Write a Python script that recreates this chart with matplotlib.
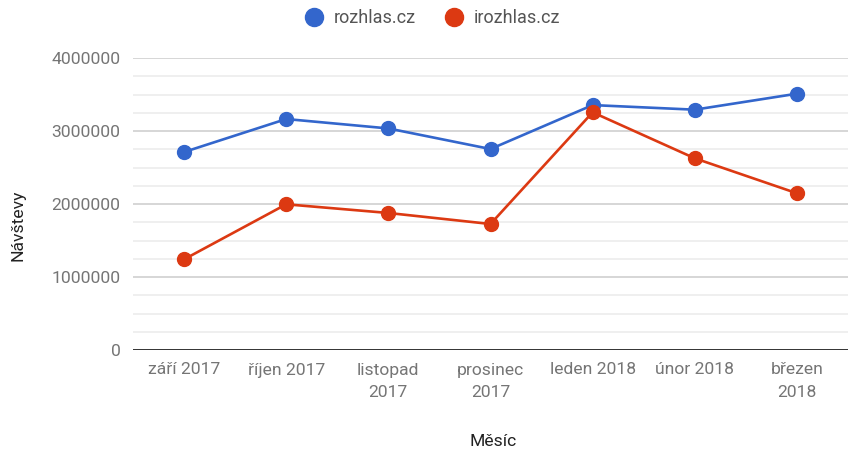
import matplotlib.pyplot as plt
from matplotlib.lines import Line2D
import numpy as np

plt.rcParams['font.family'] = ['Roboto', 'DejaVu Sans']

mesice = ["září 2017", "říjen 2017", "listopad\n2017", "prosinec\n2017",
          "leden 2018", "únor 2018", "březen\n2018"]
rozhlas = [2712000, 3164000, 3035000, 2753000, 3355000, 3292000, 3511000]
irozhlas = [1242000, 1996000, 1877000, 1726000, 3256000, 2626000, 2147000]
y_ticks = [0, 1000000, 2000000, 3000000, 4000000]

modra = "#3366cc"
cervena = "#dc3912"


def plot_navstevy():
	fig = plt.figure(figsize=(8.48, 4.5), dpi=100)
	ax = fig.add_axes([133 / 848, 100 / 450, 715 / 848, 292 / 450])

	x = np.arange(len(mesice))
	ax.plot(x, rozhlas, color=modra, lw=1.9, marker='o', ms=10, zorder=3)
	ax.plot(x, irozhlas, color=cervena, lw=1.9, marker='o', ms=10, zorder=4)

	ax.set_xlim(-0.5, len(mesice) - 0.5)
	ax.set_ylim(0, 4000000)

	# mrizka: hlavni po 1M, vedlejsi po 250k
	for v in np.arange(250000, 4000001, 250000):
		if v % 1000000 == 0:
			ax.axhline(v, color="#cccccc", lw=1.1, zorder=1)
		else:
			ax.axhline(v, color="#ebebeb", lw=1.1, zorder=1)
	ax.axhline(0, color="#333333", lw=1.4, zorder=2)

	for s in ax.spines.values():
		s.set_visible(False)

	ax.set_yticks(y_ticks)
	ax.set_yticklabels([str(v) for v in y_ticks])
	ax.set_xticks(x)
	ax.set_xticklabels(mesice, linespacing=1.6)
	ax.tick_params(length=0, labelsize=12.6, colors="#757575")
	ax.tick_params(axis='y', pad=9)
	ax.tick_params(axis='x', pad=9)

	fig.text(18 / 848, 1 - 225 / 450, "Návštevy", rotation=90, fontsize=12.6,
		color="#222222", ha='center', va='center')
	fig.text(493 / 848, 1 - 441 / 450, "Měsíc", fontsize=12.6,
		color="#222222", ha='center', va='center')

	handles = [
		Line2D([], [], ls='', marker='o', ms=13, color=modra),
		Line2D([], [], ls='', marker='o', ms=13, color=cervena),
	]
	fig.legend(handles, ["rozhlas.cz", "irozhlas.cz"], loc='center',
		bbox_to_anchor=(432 / 848, 1 - 18 / 450), ncol=2, frameon=False,
		fontsize=13, labelcolor="#555555", handletextpad=0.5,
		columnspacing=1.5, handlelength=1.2)

	fig.savefig("out.png", dpi=100)


if __name__ == '__main__':
	plot_navstevy()
